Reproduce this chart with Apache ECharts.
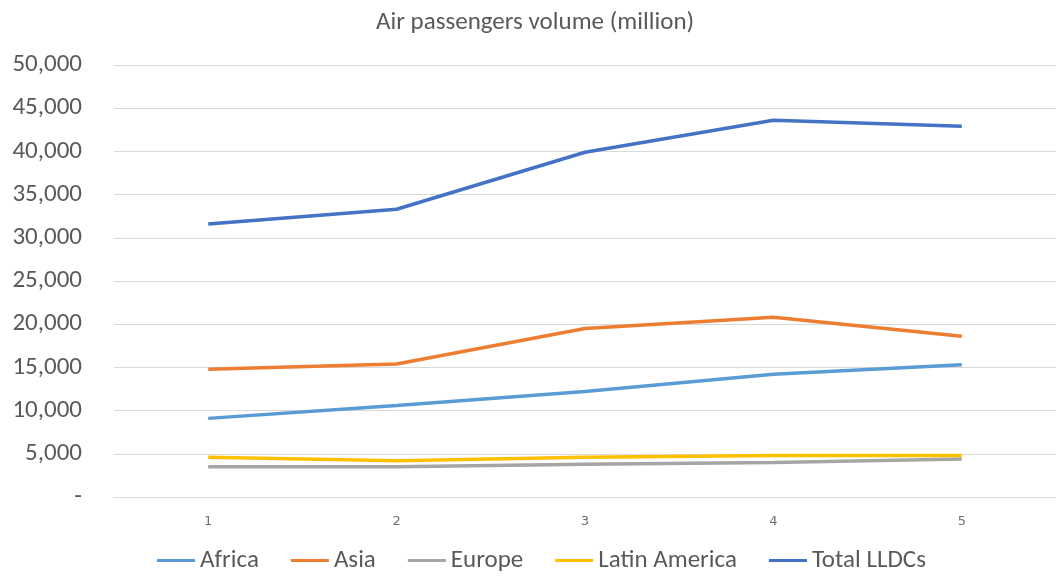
<!DOCTYPE html>
<html>
<head>
<meta charset="utf-8">
<script src="https://cdn.jsdelivr.net/npm/echarts@6/dist/echarts.min.js"></script>
<style>html,body{margin:0;padding:0;background:#fff}#c{width:1056px;height:576px}</style>
</head>
<body>
<div id="c"></div>
<script>
const categories = ['1', '2', '3', '4', '5'];
const africa = [9100, 10600, 12200, 14200, 15300];
const asia = [14800, 15400, 19500, 20800, 18600];
const europe = [3500, 3500, 3800, 4000, 4400];
const latinAmerica = [4600, 4200, 4600, 4800, 4800];
const totalLLDCs = [31600, 33300, 39900, 43600, 42900];
const seriesNames = ['Africa', 'Asia', 'Europe', 'Latin America', 'Total LLDCs'];
const seriesColors = ['#5B9BD5', '#ED7D31', '#A5A5A5', '#FFC000', '#4472C4'];
const seriesData = [africa, asia, europe, latinAmerica, totalLLDCs];

const font = "Carlito, 'Liberation Sans Narrow', 'Liberation Sans', sans-serif";
const chart = echarts.init(document.getElementById('c'));
chart.setOption({
  animation: false,
  title: {
    text: 'Air passengers volume (million)',
    left: 371, top: 5,
    textStyle: { fontFamily: font, fontSize: 25, fontWeight: 'normal', color: '#595959' }
  },
  legend: {
    bottom: -2, left: 152,
    icon: 'rect', itemWidth: 38, itemHeight: 3, itemGap: 32,
    textStyle: { fontFamily: font, fontSize: 25, color: '#595959' },
    data: seriesNames
  },
  grid: { left: 114, right: -8, top: 65, bottom: 79 },
  xAxis: {
    type: 'category', data: categories, boundaryGap: true,
    axisLine: { show: true, lineStyle: { color: '#D9D9D9' } },
    axisTick: { show: false },
    axisLabel: { fontFamily: "'DejaVu Sans', sans-serif", fontSize: 13, color: '#6f6f6f', margin: 18 }
  },
  yAxis: {
    type: 'value', min: 0, max: 50000, interval: 5000,
    axisLine: { show: false }, axisTick: { show: false },
    splitLine: { lineStyle: { color: '#D9D9D9', width: 1 } },
    axisLabel: {
      fontFamily: font, fontSize: 25, color: '#595959', margin: 32,
      formatter: v => v === 0 ? '-' : v.toLocaleString('en-US')
    }
  },
  series: seriesData.map((d, i) => ({
    name: seriesNames[i], type: 'line', data: d,
    symbol: 'none', color: seriesColors[i],
    lineStyle: { width: 3.5, color: seriesColors[i] }
  }))
});
</script>
</body>
</html>
